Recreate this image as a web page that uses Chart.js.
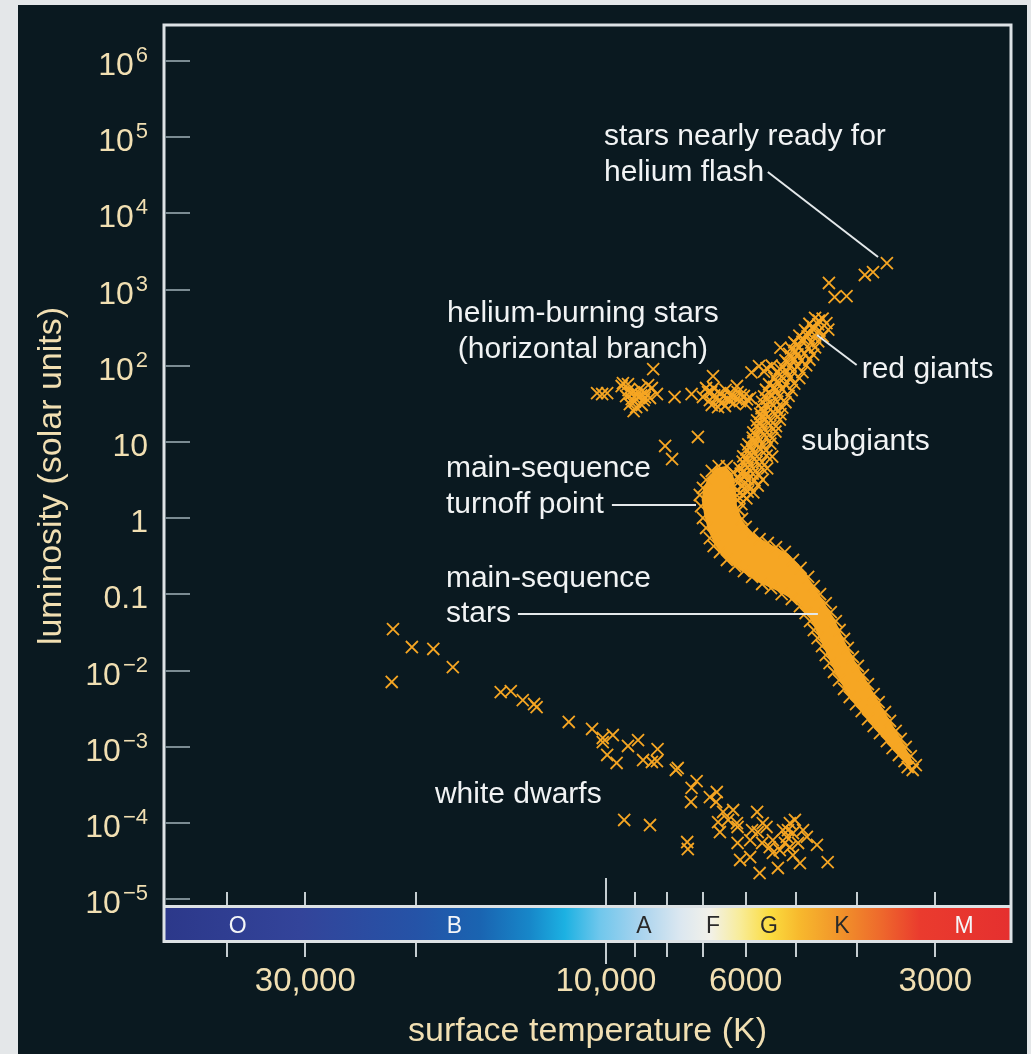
<!DOCTYPE html>
<html>
<head>
<meta charset="utf-8">
<title>H-R diagram of a globular cluster</title>
<script src="https://cdn.jsdelivr.net/npm/chart.js@4.4.1/dist/chart.umd.min.js"></script>
<style>
  html, body { margin: 0; padding: 0; background: #e4e7e9; }
  canvas { display: block; }
</style>
</head>
<body>
<canvas id="hr" width="1031" height="1054"></canvas>
<script>
// Every star is [log10 surface temperature (K), log10 luminosity (solar units)]

const whiteDwarfs = [
  [4.338,-1.454],[4.308,-1.690],[4.274,-1.716],[4.243,-1.953],[4.340,-2.149],
  [4.167,-2.281],[4.151,-2.268],[4.132,-2.386],[4.114,-2.438],[4.110,-2.478],
  [4.059,-2.674],[4.022,-2.766],[4.005,-2.884],[3.989,-2.845],[4.005,-2.937],
  [3.998,-3.107],[3.983,-3.212],[3.965,-2.989],[3.949,-2.911],[3.941,-3.173],
  [3.927,-3.199],[3.919,-3.186],[3.918,-3.029],[3.889,-3.304],[3.886,-3.278],
  [3.856,-3.449],[3.864,-3.540],[3.865,-3.724],[3.835,-3.659],[3.824,-3.593],
  [3.825,-3.724],[3.814,-3.855],[3.798,-3.829],[3.822,-3.987],[3.806,-3.960],
  [3.792,-4.000],[3.760,-3.855],[3.819,-4.118],[3.791,-4.052],[3.768,-4.092],
  [3.759,-4.118],[3.745,-4.052],[3.791,-4.262],[3.771,-4.223],[3.752,-4.262],
  [3.735,-4.223],[3.719,-4.092],[3.708,-4.000],[3.700,-3.960],[3.713,-4.183],
  [3.703,-4.131],[3.695,-4.262],[3.687,-4.092],[3.681,-4.183],[3.665,-4.288],
  [3.708,-4.315],[3.724,-4.354],[3.740,-4.315],[3.703,-4.420],[3.692,-4.525],
  [3.735,-4.393],[3.771,-4.446],[3.787,-4.485],[3.756,-4.656],[3.727,-4.590],
  [3.648,-4.512],[3.971,-3.960],[3.930,-4.026],[3.871,-4.249],[3.870,-4.341],
  [3.716,-4.262],[3.711,-4.092],[3.751,-4.000]
];

const horizontalBranch = [
  [4.014,1.643],[4.006,1.630],[3.998,1.643],[3.925,1.958],[3.891,1.591],
  [3.864,1.630],[3.830,1.866],[3.854,1.066],[3.906,0.948],[3.895,0.777],
  [3.975,1.735],[3.965,1.761],[3.956,1.656],[3.946,1.696],[3.937,1.643],
  [3.927,1.709],[3.919,1.630],[3.968,1.604],[3.959,1.564],[3.949,1.591],
  [3.940,1.551],[3.930,1.578],[3.962,1.499],[3.952,1.459],[3.943,1.486],
  [3.956,1.407],[3.964,1.683],[3.933,1.748],[3.973,1.774],
  [3.951,1.622],[3.944,1.612],[3.960,1.633],[3.938,1.585],[3.954,1.530],
  [3.846,1.591],[3.838,1.656],[3.829,1.709],[3.819,1.643],[3.810,1.683],
  [3.800,1.630],[3.791,1.656],[3.781,1.604],[3.771,1.578],[3.835,1.551],
  [3.825,1.578],[3.816,1.525],[3.806,1.564],[3.797,1.512],[3.787,1.538],
  [3.778,1.499],[3.832,1.486],[3.822,1.459],[3.811,1.473],[3.802,1.604],
  [3.841,1.709],[3.792,1.735],
  [3.828,1.612],[3.814,1.598],[3.804,1.545],[3.820,1.540],[3.786,1.620],
  [3.795,1.584],[3.833,1.655],[3.776,1.560]
];

const giantBranch = [
  [3.668,2.630],[3.656,2.618],
  [3.677,2.552],[3.663,2.545],[3.650,2.560],
  [3.684,2.468],[3.671,2.478],[3.661,2.462],[3.647,2.474],
  [3.693,2.395],[3.680,2.386],[3.668,2.399],[3.656,2.388],
  [3.701,2.309],[3.688,2.318],[3.674,2.306],[3.663,2.320],
  [3.723,2.238],[3.706,2.228],[3.693,2.240],[3.678,2.231],[3.668,2.243],
  [3.709,2.158],[3.696,2.150],[3.685,2.161],[3.671,2.148],
  [3.715,2.072],[3.701,2.082],[3.690,2.070],[3.677,2.080],
  [3.757,1.995],[3.737,2.004],[3.720,1.992],[3.707,2.001],[3.696,1.994],[3.682,2.006],
  [3.769,1.915],[3.749,1.924],[3.728,1.912],[3.713,1.921],[3.703,1.928],[3.688,1.916],
  [3.745,1.970],
  [3.733,1.845],[3.718,1.836],[3.707,1.848],[3.693,1.838],
  [3.741,1.758],[3.726,1.766],[3.715,1.755],[3.701,1.768],
  [3.746,1.686],[3.731,1.678],[3.720,1.690],[3.705,1.680],
  [3.749,1.600],[3.736,1.609],[3.725,1.598],[3.710,1.606],
  [3.752,1.528],[3.739,1.520],[3.728,1.531],[3.715,1.522],
  [3.753,1.441],[3.742,1.450],[3.729,1.443],[3.720,1.452],
  [3.755,1.371],[3.746,1.362],[3.732,1.372],[3.723,1.365],
  [3.760,1.285],[3.747,1.293],[3.738,1.284],[3.724,1.294],
  [3.761,1.214],[3.752,1.206],[3.739,1.216],[3.730,1.208],
  [3.766,1.128],[3.753,1.136],[3.744,1.127],[3.731,1.138],
  [3.767,1.057],[3.758,1.049],[3.745,1.058],[3.736,1.050],
  [3.774,0.970],[3.761,0.979],[3.752,0.969],[3.739,0.978],
  [3.777,0.899],[3.768,0.891],[3.755,0.901],[3.746,0.892],
  [3.782,0.813],[3.769,0.822],[3.760,0.812],[3.745,0.820],[3.736,0.810],
  [3.783,0.742],[3.774,0.733],[3.761,0.741],[3.752,0.735],
  [3.788,0.656],[3.775,0.664],[3.766,0.655],[3.753,0.662],[3.744,0.654],
  [3.786,0.584],[3.779,0.576],[3.767,0.585],[3.758,0.577],
  [3.787,0.498],[3.774,0.506],[3.764,0.497],[3.751,0.505],
  [3.783,0.426],[3.772,0.419],[3.759,0.427],
  [3.787,0.340],[3.775,0.348],[3.766,0.339],
  [3.788,0.268],[3.777,0.261],
  [3.785,0.184],
  [3.662,2.592],[3.671,2.512],[3.680,2.433],[3.687,2.354],[3.697,2.275],
  [3.700,2.195],[3.706,2.115],[3.711,2.040],[3.724,1.960],[3.724,1.880],
  [3.728,1.800],[3.733,1.722],[3.740,1.643],[3.744,1.565],[3.746,1.484],
  [3.750,1.405],[3.753,1.328],[3.755,1.250],[3.757,1.170],[3.762,1.092],
  [3.766,1.012],[3.770,0.935],[3.772,0.855],[3.776,0.778],[3.779,0.700],
  [3.781,0.620],[3.780,0.540],[3.779,0.462],[3.780,0.385],[3.782,0.302]
];

const heliumFlashStars = [
  [3.646,3.087],[3.637,2.903],[3.618,2.916],[3.589,3.192],[3.576,3.231],[3.554,3.349]
];

// stars scattered along both rims of the main-sequence band
const mainSequenceEdge = [
  [3.851,0.305],[3.849,0.160],[3.846,0.003],[3.841,-0.128],[3.835,-0.260],
  [3.829,-0.365],[3.819,-0.443],[3.808,-0.548],[3.795,-0.627],[3.781,-0.693],
  [3.768,-0.771],[3.752,-0.863],[3.738,-0.916],[3.721,-0.995],[3.705,-1.060],
  [3.692,-1.152],[3.683,-1.244],[3.676,-1.349],[3.670,-1.467],[3.664,-1.572],
  [3.657,-1.677],[3.651,-1.795],[3.645,-1.900],[3.638,-2.018],[3.630,-2.123],
  [3.622,-2.241],[3.613,-2.346],[3.603,-2.438],[3.594,-2.530],[3.584,-2.635],
  [3.575,-2.727],[3.565,-2.819],[3.554,-2.924],[3.545,-3.016],[3.535,-3.107],
  [3.526,-3.186],[3.521,-3.265],[3.513,-3.304],
  [3.508,-3.239],[3.516,-3.121],[3.524,-3.002],[3.532,-2.897],[3.540,-2.792],
  [3.549,-2.661],[3.557,-2.543],[3.567,-2.412],[3.575,-2.307],[3.584,-2.176],
  [3.592,-2.058],[3.600,-1.939],[3.608,-1.821],[3.616,-1.703],[3.622,-1.585],
  [3.629,-1.467],[3.635,-1.349],[3.643,-1.231],[3.651,-1.113],[3.660,-0.995],
  [3.670,-0.890],[3.679,-0.771],[3.691,-0.653],[3.703,-0.548],[3.716,-0.443],
  [3.730,-0.378],[3.743,-0.325],[3.756,-0.273],[3.768,-0.207],[3.778,-0.115],
  [3.784,-0.010],[3.789,0.108],[3.791,0.239],[3.792,0.370],[3.794,0.488],
  [3.798,0.606],[3.808,0.685],[3.821,0.685],[3.832,0.620],[3.841,0.502],
  [3.846,0.397]
];

// outline of the region where main-sequence stars are packed solid
const mainSequenceBand = [
  [3.846,0.370],[3.848,0.239],[3.844,0.042],[3.838,-0.155],[3.827,-0.352],
  [3.811,-0.522],[3.787,-0.680],[3.759,-0.837],[3.724,-0.968],[3.695,-1.113],
  [3.679,-1.270],[3.667,-1.467],[3.654,-1.703],[3.638,-1.992],[3.619,-2.281],
  [3.597,-2.517],[3.575,-2.740],[3.552,-2.950],[3.533,-3.121],[3.521,-3.252],
  [3.511,-3.226],[3.524,-3.016],[3.541,-2.766],[3.562,-2.478],[3.584,-2.163],
  [3.603,-1.900],[3.622,-1.598],[3.638,-1.310],[3.656,-1.073],[3.673,-0.850],
  [3.692,-0.627],[3.716,-0.443],[3.743,-0.325],[3.768,-0.194],[3.784,-0.024],
  [3.792,0.173],[3.794,0.370],[3.798,0.567],[3.810,0.685],[3.825,0.659],
  [3.838,0.528]
];

const lumTickExponents = [6, 5, 4, 3, 2, 1, 0, -1, -2, -3, -4, -5];
const tempTicks = [40000, 30000, 20000, 10000, 9000, 8000, 7000, 6000, 5000, 4000, 3000];
const tempTickLabels = { 30000: '30,000', 10000: '10,000', 6000: '6000', 3000: '3000' };
const spectralClasses = ['O', 'B', 'A', 'F', 'G', 'K', 'M'];
const spectralClassTemps = [38400, 17400, 8700, 6760, 5510, 4220, 2700];

const ORANGE = '#f6a623';
const TAN = '#f1dfb2';
const WHITE = '#f1f3f4';
const FONT = "'Liberation Sans', Arial, Helvetica, sans-serif";

const toXY = pts => pts.map(([t, l]) => ({ x: Math.pow(10, t), y: Math.pow(10, l) }));

function starSet(label, pts) {
  return {
    label,
    data: toXY(pts),
    showLine: false,
    pointStyle: 'crossRot',
    pointRadius: 8.5,
    pointHoverRadius: 8.5,
    pointBorderWidth: 1.8,
    pointBorderColor: ORANGE,
    pointBackgroundColor: ORANGE,
    borderColor: ORANGE,
    backgroundColor: ORANGE
  };
}

// text annotations and leader lines, placed in (log T, log L)
const notes = [
  { text: 'stars nearly ready for', at: [4.003, 4.898], align: 'left' },
  { text: 'helium flash', at: [4.003, 4.425], align: 'left' },
  { text: 'helium-burning stars', at: [4.0365, 2.575], align: 'center' },
  { text: '(horizontal branch)', at: [4.0365, 2.102], align: 'center' },
  { text: 'red giants', at: [3.594, 1.840], align: 'left' },
  { text: 'subgiants', at: [3.690, 0.895], align: 'left' },
  { text: 'main-sequence', at: [4.254, 0.541], align: 'left' },
  { text: 'turnoff point', at: [4.254, 0.068], align: 'left' },
  { text: 'main-sequence', at: [4.254, -0.903], align: 'left' },
  { text: 'stars', at: [4.254, -1.362], align: 'left' },
  { text: 'white dwarfs', at: [4.2714, -3.737], align: 'left' }
];
const leaders = [
  [[3.743, 4.543], [3.568, 3.428]],
  [[3.665, 2.404], [3.602, 2.011]],
  [[3.9905, 0.173], [3.857, 0.173]],
  [[4.1397, -1.257], [3.6635, -1.257]]
];

const spectrumStops = [
  [50290, '#2c388a'], [30600, '#33449a'], [20000, '#2553a7'], [15850, '#1a64b1'],
  [13200, '#1787c9'], [11620, '#1cb1e2'], [10220, '#70c7ec'], [8830, '#a8d3ee'],
  [7630, '#dbe7f0'], [6840, '#f2f1ea'], [6130, '#f8ec9a'], [5490, '#fbdc3f'],
  [4920, '#f7b82d'], [4250, '#f1932a'], [3674, '#ee6a2c'], [3174, '#ea3b2e'],
  [2275, '#e5302f']
];

const hrDecor = {
  id: 'hrDecor',
  beforeDraw(chart) {
    const { ctx, width, height } = chart;
    ctx.save();
    ctx.fillStyle = '#e4e7e9';
    ctx.fillRect(0, 0, width, height);
    ctx.fillStyle = '#0a1920';
    ctx.fillRect(18, 5, 1009, height - 5);
    ctx.restore();
  },
  beforeDatasetsDraw(chart) {
    const { ctx, scales: { x, y } } = chart;
    ctx.save();
    ctx.beginPath();
    mainSequenceBand.forEach(([t, l], i) => {
      const px = x.getPixelForValue(Math.pow(10, t));
      const py = y.getPixelForValue(Math.pow(10, l));
      if (i === 0) ctx.moveTo(px, py); else ctx.lineTo(px, py);
    });
    ctx.closePath();
    ctx.fillStyle = ORANGE;
    ctx.fill();
    ctx.restore();
  },
  afterDatasetsDraw(chart) {
    const { ctx, chartArea: a, scales: { x, y } } = chart;
    const P = ([t, l]) => [x.getPixelForValue(Math.pow(10, t)), y.getPixelForValue(Math.pow(10, l))];
    ctx.save();

    // spectral-class colour bar
    const barTop = a.bottom + 1.5, barBottom = a.bottom + 34;
    const grad = ctx.createLinearGradient(a.left, 0, a.right, 0);
    spectrumStops.forEach(([t, c]) => {
      const f = (x.getPixelForValue(t) - a.left) / (a.right - a.left);
      grad.addColorStop(Math.min(1, Math.max(0, f)), c);
    });
    ctx.fillStyle = grad;
    ctx.fillRect(a.left, barTop, a.right - a.left, barBottom - barTop);

    ctx.font = `23px ${FONT}`;
    ctx.textAlign = 'center';
    ctx.textBaseline = 'alphabetic';
    spectralClasses.forEach((c, i) => {
      ctx.fillStyle = (c === 'O' || c === 'B' || c === 'M') ? '#f4f6f8' : '#2a2a2a';
      ctx.fillText(c, x.getPixelForValue(spectralClassTemps[i]), a.bottom + 27);
    });

    // frame around plot and bar
    ctx.strokeStyle = '#dde2e5';
    ctx.lineWidth = 3;
    ctx.strokeRect(a.left, a.top, a.right - a.left, barBottom + 1.5 - a.top);
    ctx.beginPath();
    ctx.moveTo(a.left, a.bottom + 0.5);
    ctx.lineTo(a.right, a.bottom + 0.5);
    ctx.stroke();

    // temperature ticks above and below the bar
    ctx.strokeStyle = '#c5cdd1';
    ctx.lineWidth = 2;
    tempTicks.forEach(t => {
      const px = Math.round(x.getPixelForValue(t));
      const major = t === 10000;
      ctx.beginPath();
      ctx.moveTo(px, a.bottom - (major ? 28 : 14));
      ctx.lineTo(px, a.bottom - 1);
      ctx.moveTo(px, barBottom + 3);
      ctx.lineTo(px, barBottom + (major ? 24 : 17));
      ctx.stroke();
    });
    ctx.fillStyle = TAN;
    ctx.font = `33px ${FONT}`;
    ctx.textAlign = 'center';
    tempTicks.forEach(t => {
      if (tempTickLabels[t]) ctx.fillText(tempTickLabels[t], x.getPixelForValue(t), barBottom + 51);
    });
    ctx.font = `34px ${FONT}`;
    ctx.fillText('surface temperature (K)', (a.left + a.right) / 2, barBottom + 101);

    // luminosity ticks and labels
    ctx.strokeStyle = '#7b8b92';
    ctx.lineWidth = 2;
    lumTickExponents.forEach(e => {
      const py = Math.round(y.getPixelForValue(Math.pow(10, e)));
      ctx.beginPath();
      ctx.moveTo(a.left + 1, py);
      ctx.lineTo(a.left + 26, py);
      ctx.stroke();
      ctx.fillStyle = TAN;
      ctx.textAlign = 'right';
      const rightEdge = a.left - 16;
      if (e >= 2 || e <= -2) {
        const sup = e < 0 ? '\u2212' + (-e) : String(e);
        ctx.font = `22px ${FONT}`;
        const w = ctx.measureText(sup).width;
        ctx.fillText(sup, rightEdge, py + 1);
        ctx.font = `32px ${FONT}`;
        ctx.fillText('10', rightEdge - w - 2, py + 14);
      } else {
        ctx.font = `32px ${FONT}`;
        ctx.fillText(e === 1 ? '10' : e === 0 ? '1' : '0.1', rightEdge, py + 14);
      }
    });
    ctx.save();
    ctx.translate(61, 476);
    ctx.rotate(-Math.PI / 2);
    ctx.textAlign = 'center';
    ctx.font = `34px ${FONT}`;
    ctx.fillStyle = TAN;
    ctx.fillText('luminosity (solar units)', 0, 0);
    ctx.restore();

    // annotations
    ctx.strokeStyle = '#e4e8ea';
    ctx.lineWidth = 2;
    leaders.forEach(([p0, p1]) => {
      const [x0, y0] = P(p0), [x1, y1] = P(p1);
      ctx.beginPath();
      ctx.moveTo(x0, y0);
      ctx.lineTo(x1, y1);
      ctx.stroke();
    });
    ctx.fillStyle = WHITE;
    ctx.font = `30px ${FONT}`;
    notes.forEach(n => {
      const [px, py] = P(n.at);
      ctx.textAlign = n.align;
      ctx.fillText(n.text, px, py);
    });

    ctx.restore();
  }
};

new Chart(document.getElementById('hr'), {
  type: 'scatter',
  data: {
    datasets: [
      starSet('main sequence', mainSequenceEdge),
      starSet('subgiants and red giants', giantBranch),
      starSet('horizontal branch', horizontalBranch),
      starSet('helium flash', heliumFlashStars),
      starSet('white dwarfs', whiteDwarfs)
    ]
  },
  options: {
    responsive: false,
    devicePixelRatio: 1,
    animation: false,
    events: [],
    layout: { padding: { left: 0, right: 20, top: 25, bottom: 0 } },
    plugins: { legend: { display: false }, tooltip: { enabled: false } },
    scales: {
      x: {
        type: 'logarithmic', reverse: true, bounds: 'data',
        min: 2275, max: 50290,
        ticks: { display: false }, grid: { display: false }, border: { display: false },
        afterFit: s => { s.height = 148; }
      },
      y: {
        type: 'logarithmic', bounds: 'data',
        min: 8.15e-6, max: 2.97e6,
        ticks: { display: false }, grid: { display: false }, border: { display: false },
        afterFit: s => { s.width = 164; }
      }
    }
  },
  plugins: [hrDecor]
});
</script>
</body>
</html>
